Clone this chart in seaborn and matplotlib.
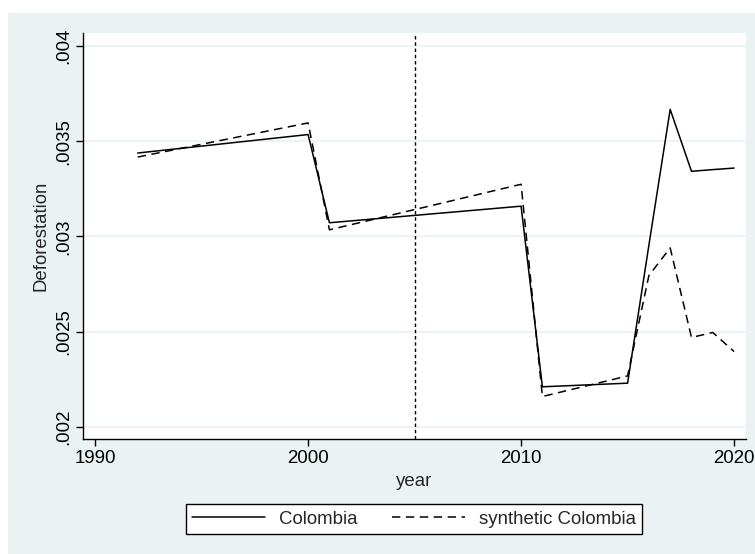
import matplotlib
matplotlib.use("Agg")
import matplotlib.pyplot as plt
from matplotlib.patches import Rectangle
from matplotlib.ticker import FixedLocator, FuncFormatter
import seaborn as sns
import pandas as pd

# Deforestation rate, observed vs. synthetic control
years = [1992, 2000, 2001, 2010, 2011, 2015, 2016, 2017, 2018, 2019, 2020]
colombia = [0.003438, 0.003535, 0.003072, 0.003159, 0.002211, 0.002230,
            0.002954, 0.003667, 0.003342, 0.003351, 0.003359]
synthetic = [0.003417, 0.003596, 0.003035, 0.003274, 0.002160, 0.002268,
             0.002795, 0.002940, 0.002470, 0.002496, 0.002396]
series_names = ["Colombia", "synthetic Colombia"]
treatment_year = 2005
x_ticks = [1990, 2000, 2010, 2020]
y_ticks = [0.002, 0.0025, 0.003, 0.0035, 0.004]
y_tick_labels = [".002", ".0025", ".003", ".0035", ".004"]

df = pd.DataFrame({
    "year": years * 2,
    "value": colombia + synthetic,
    "series": [series_names[0]] * len(years) + [series_names[1]] * len(years),
})

sns.set_style("white")
plt.rcParams["font.family"] = ["Liberation Sans", "DejaVu Sans"]
FS = 13.4
panel = "#EAF2F3"

W, H = 755, 554
fig = plt.figure(figsize=(W / 100, H / 100), dpi=100)
fig.patch.set_facecolor("white")
fig.patches.append(Rectangle((8 / W, -0.05), 1.1, 1.05 - 13 / H,
                             transform=fig.transFigure, facecolor=panel,
                             edgecolor="none", zorder=-10))

ax = fig.add_axes([83 / W, 1 - 439 / H, (746 - 83) / W, (439 - 33) / H])
ax.set_facecolor("white")

sns.lineplot(data=df, x="year", y="value", hue="series", style="series",
             palette=["black", "black"], dashes=["", (5.5, 3.6)],
             linewidth=1.1, ax=ax, legend=True, zorder=3)

ax.axvline(treatment_year, color="black", linewidth=1.0,
           linestyle=(0, (2.5, 2.0)), zorder=2)

ax.set_xlim(1989.43, 2020.56)
ax.set_ylim(0.001937, 0.004068)

ax.xaxis.set_major_locator(FixedLocator(x_ticks))
ax.yaxis.set_major_locator(FixedLocator(y_ticks))
ax.yaxis.set_major_formatter(FuncFormatter(
    lambda v, p: y_tick_labels[y_ticks.index(min(y_ticks, key=lambda t: abs(t - v)))]))

ax.grid(axis="y", color=panel, linewidth=1.2, zorder=0)
ax.grid(axis="x", visible=False)

for s in ["top", "right"]:
    ax.spines[s].set_visible(False)
for s in ["left", "bottom"]:
    ax.spines[s].set_color("black")
    ax.spines[s].set_linewidth(1.0)

ax.tick_params(axis="both", direction="out", length=5, width=1.0,
               color="black", labelsize=FS, labelcolor="black",
               left=True, bottom=True)
ax.tick_params(axis="x", pad=3)
ax.tick_params(axis="y", pad=3)
for lab in ax.get_yticklabels():
    lab.set_rotation(90)
    lab.set_va("center")

ax.set_xlabel("year", fontsize=FS, labelpad=4)
ax.set_ylabel("Deforestation", fontsize=FS, labelpad=4)

handles, labels = ax.get_legend_handles_labels()
ax.get_legend().remove()
leg = fig.legend(handles, labels, loc="center", bbox_to_anchor=(414 / W, 1 - 519 / H),
                 ncol=2, fontsize=FS, frameon=True, fancybox=False,
                 handlelength=3.9, handletextpad=0.75, columnspacing=1.9,
                 borderpad=0.35, borderaxespad=0)
leg.get_frame().set_edgecolor("black")
leg.get_frame().set_linewidth(1.0)
leg.get_frame().set_facecolor("white")
leg.get_frame().set_alpha(1)

fig.savefig("out.png", dpi=100)
